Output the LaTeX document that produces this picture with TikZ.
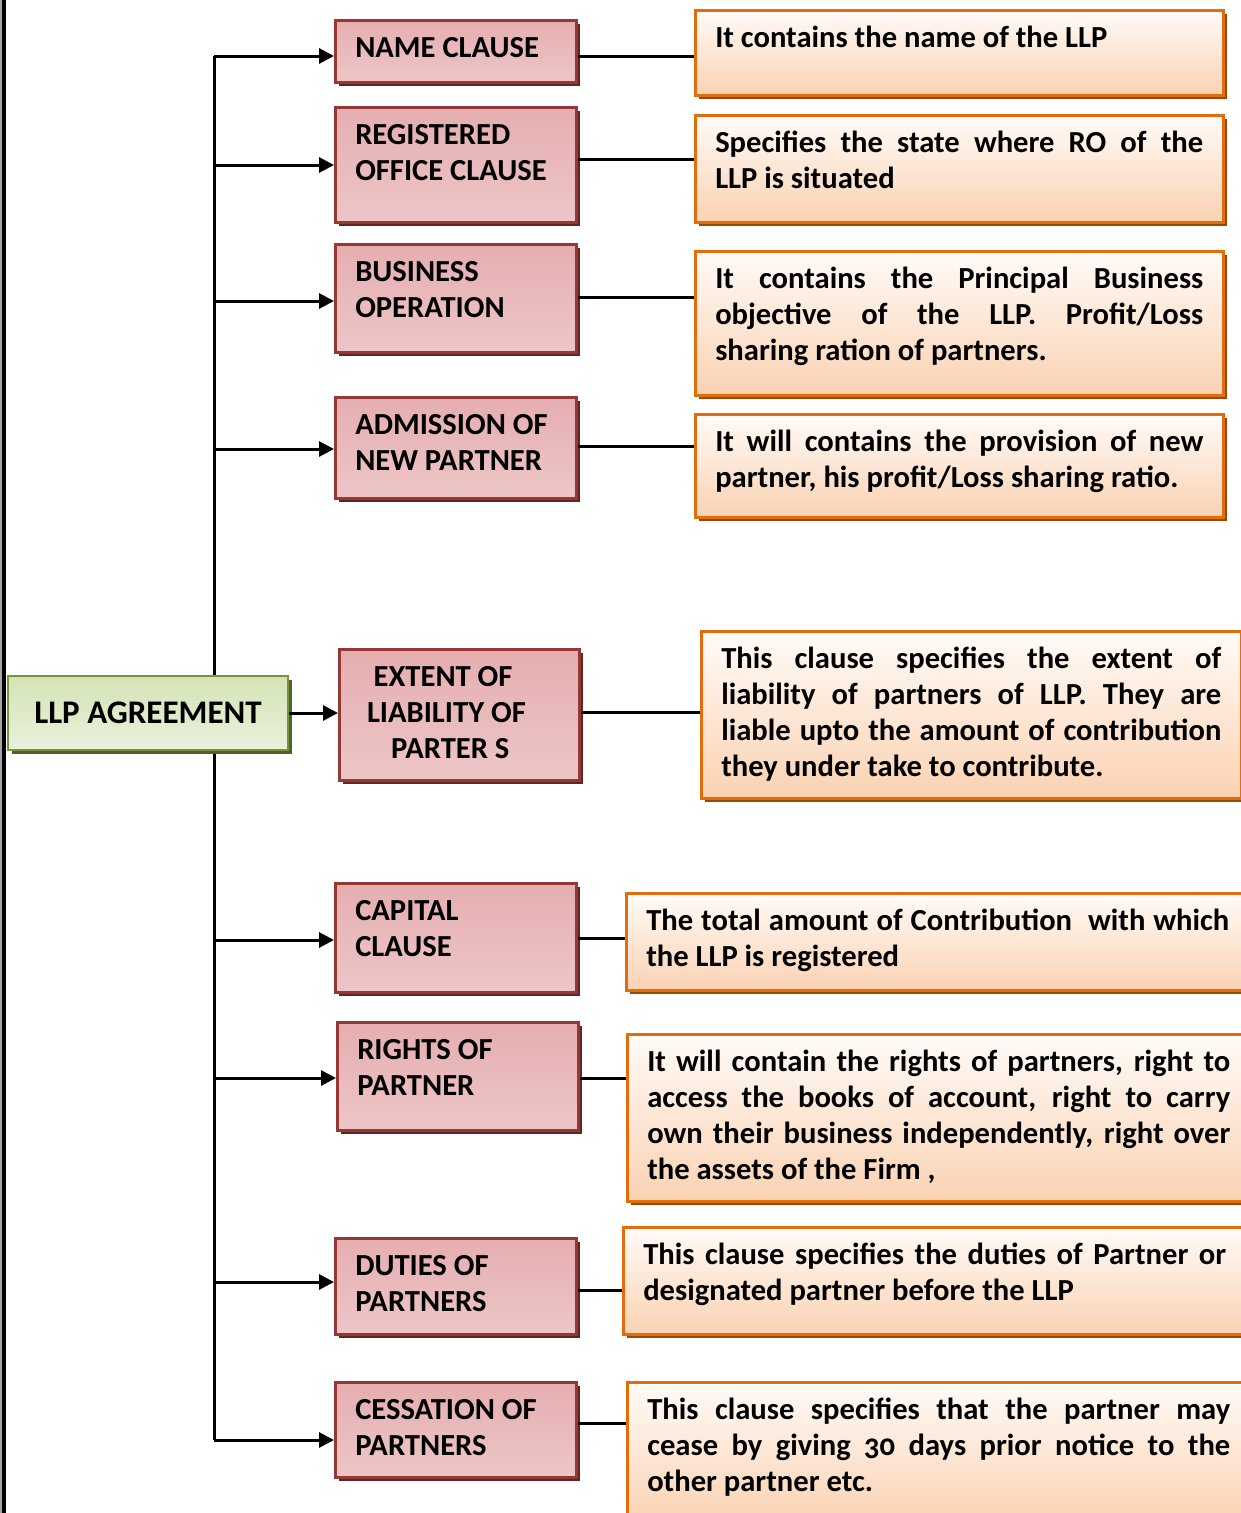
\documentclass[tikz,border=0pt]{standalone}
\usepackage{fontspec}
\setmainfont[Numbers=OldStyle]{Carlito}
\usetikzlibrary{arrows.meta,shadows}
\definecolor{pinkA}{HTML}{E5AEB0}
\definecolor{pinkB}{HTML}{F5E1E2}
\definecolor{pinkC}{HTML}{EDC6C7}
\definecolor{pinkLine}{HTML}{953735}
\definecolor{pinkShadow}{HTML}{632523}
\definecolor{orA}{HTML}{FFFBF8}
\definecolor{orB}{HTML}{FAD2B2}
\definecolor{orLine}{HTML}{E46C0A}
\definecolor{orShadow}{HTML}{984807}
\definecolor{grA}{HTML}{D3E3B5}
\definecolor{grB}{HTML}{EAF1DC}
\definecolor{grLine}{HTML}{77933C}
\definecolor{grShadow}{HTML}{4F6228}
\newcommand\jl[1]{\makebox[\hsize][s]{#1}}
\newcommand\clbox[7]{%
  \node[#2, anchor=north west] (#1) at (#3,#4)
  {\parbox[t][\dimexpr #6pt-23.6pt\relax][t]{\dimexpr #5pt-40pt\relax}{\strut #7}};}
\begin{document}
\begin{tikzpicture}[x=1pt,y=-1pt,
  every node/.style={font=\bfseries\fontsize{30.6}{36}\selectfont, text=black},
  basebox/.style={rectangle, line width=2.5pt, inner xsep=20pt, inner ysep=11.8pt},
  pinkbox/.style={basebox, draw=pinkLine, top color=pinkA, middle color=pinkB, bottom color=pinkC,
    general shadow={fill=pinkShadow, shadow xshift=3.5pt, shadow yshift=-3.5pt}},
  orbox/.style={basebox, draw=orLine, top color=orA, bottom color=orB,
    general shadow={fill=orShadow, shadow xshift=3.5pt, shadow yshift=-3.5pt}},
  greenbox/.style={rectangle, line width=2.5pt, draw=grLine, top color=grA, bottom color=grB,
    font=\bfseries\fontsize{33}{40}\selectfont,
    general shadow={fill=grShadow, shadow xshift=3.5pt, shadow yshift=-3.5pt}},
  conn/.style={line width=3pt, black},
  arr/.style={line width=3pt, black, -{Triangle[length=15pt,width=15pt]}}]
\useasboundingbox (0,0) rectangle (1240,1513);
\fill[gray!70] (0,0) rectangle (2,1513);
\fill[black] (2,0) rectangle (6,1513);

% trunk junctions
\coordinate (j1) at (214,56);
\coordinate (j2) at (214,165);
\coordinate (j3) at (214,301);
\coordinate (j4) at (214,449);
\coordinate (j6) at (214,940);
\coordinate (j7) at (214,1078);
\coordinate (j8) at (214,1282);
\coordinate (j9) at (214,1440);
\draw[conn] (j1) -- (j9);

% left clause boxes
\clbox{l1}{pinkbox}{334}{19}{241}{62}{NAME CLAUSE}
\clbox{l2}{pinkbox}{334}{106}{241}{115}{REGISTERED\\OFFICE CLAUSE}
\clbox{l3}{pinkbox}{334}{243}{241}{108}{BUSINESS\\OPERATION}
\clbox{l4}{pinkbox}{334}{396}{241}{101}{ADMISSION OF\\NEW PARTNER}
\clbox{l5}{pinkbox}{338}{648}{240}{131}{\leftskip=0pt plus 1fil\rightskip=18pt plus 1fil\parfillskip=0pt EXTENT OF\\LIABILITY OF\\PARTER S}
\clbox{l6}{pinkbox}{334}{882}{241}{109}{CAPITAL\\CLAUSE}
\clbox{l7}{pinkbox}{336}{1021}{241}{108}{RIGHTS OF\\PARTNER}
\clbox{l8}{pinkbox}{334}{1237}{241}{96}{DUTIES OF\\PARTNERS}
\clbox{l9}{pinkbox}{334}{1381}{241}{95}{CESSATION OF\\PARTNERS}

% right description boxes
\clbox{r1}{orbox}{694}{9}{528}{85}{It contains the name of the LLP}
\clbox{r2}{orbox}{694}{114}{528}{107}{\jl{Specifies the state where RO of the}\\LLP is situated}
\clbox{r3}{orbox}{694}{250}{528}{144}{\jl{It contains the Principal Business}\\\jl{objective of the LLP. Profit/Loss}\\sharing ration of partners.}
\clbox{r4}{orbox}{694}{413}{528}{103}{\jl{It will contains the provision of new}\\partner, his profit/Loss sharing ratio.}
\clbox{r5}{orbox}{700}{630}{540}{167}{\jl{This clause specifies the extent of}\\\jl{liability of partners of LLP. They are}\\\jl{liable upto the amount of contribution}\\they under take to contribute.}
\clbox{r6}{orbox}{625}{892}{623}{97}{\jl{The total amount of Contribution \ with which}\\the LLP is registered}
\clbox{r7}{orbox}{626}{1033}{623}{167}{\jl{It will contain the rights of partners, right to}\\\jl{access the books of account, right to carry}\\\jl{own their business independently, right over}\\the assets of the Firm ,}
\clbox{r8}{orbox}{622}{1226}{623}{107}{\jl{This clause specifies the duties of Partner or}\\designated partner before the LLP}
\clbox{r9}{orbox}{626}{1381}{623}{140}{\jl{This clause specifies that the partner may}\\\jl{cease by giving 30 days prior notice to the}\\other partner etc.}

% root
\node[greenbox, minimum width=280pt, minimum height=74pt] (llp) at (148,713) {LLP AGREEMENT};

% arrows from trunk
\draw[arr] (j1) -- (l1.west |- j1);
\draw[arr] (j2) -- (l2.west |- j2);
\draw[arr] (j3) -- (l3.west |- j3);
\draw[arr] (j4) -- (l4.west |- j4);
\draw[arr] (llp.east) -- (l5.west |- llp.east);
\draw[arr] (j6) -- (l6.west |- j6);
\draw[arr] (j7) -- (l7.west |- j7);
\draw[arr] (j8) -- (l8.west |- j8);
\draw[arr] (j9) -- (l9.west |- j9);

% connectors to descriptions
\draw[conn] (l1.east |- 0,56) -- (r1.west |- 0,56);
\draw[conn] (l2.east |- 0,159) -- (r2.west |- 0,159);
\draw[conn] (l3.east |- 0,297) -- (r3.west |- 0,297);
\draw[conn] (l4.east |- 0,446) -- (r4.west |- 0,446);
\draw[conn] (l5.east |- 0,712) -- (r5.west |- 0,712);
\draw[conn] (l6.east |- 0,938) -- (r6.west |- 0,938);
\draw[conn] (l7.east |- 0,1078) -- (r7.west |- 0,1078);
\draw[conn] (l8.east |- 0,1290) -- (r8.west |- 0,1290);
\draw[conn] (l9.east |- 0,1423) -- (r9.west |- 0,1423);
\end{tikzpicture}
\end{document}
